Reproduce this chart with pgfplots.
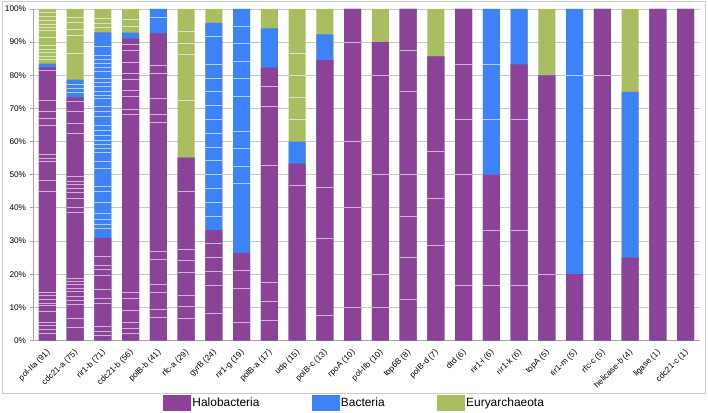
\documentclass[border=0pt]{standalone}
\usepackage{pgfplots}
\usepackage{pgfplotstable}
\pgfplotsset{compat=1.18}
\usepackage{fontspec}
\setmainfont{Liberation Sans}
\definecolor{halo}{RGB}{140,66,150}
\definecolor{bact}{RGB}{62,130,247}
\definecolor{eury}{RGB}{168,190,96}
\definecolor{gridc}{RGB}{200,200,200}
\newcommand{\rl}[1]{\rotatebox{45}{#1}}

% cumulative percentages: H = Halobacteria, HB = Halobacteria+Bacteria, T = total
\pgfplotstableread{
x H HB T
0 82.42 83.52 100
1 73.33 78.67 100
2 30.99 92.96 100
3 91.07 92.86 100
4 92.68 100 100
5 55.17 55.17 100
6 33.33 95.83 100
7 26.32 100 100
8 82.35 94.12 100
9 53.33 60.00 100
10 84.62 92.31 100
11 100 100 100
12 90 90 100
13 100 100 100
14 85.71 85.71 100
15 100 100 100
16 50 100 100
17 83.33 100 100
18 80 80 100
19 20 100 100
20 100 100 100
21 25 75 100
22 100 100 100
23 100 100 100
}\bars

% separators between sequence groups inside the bars
\pgfplotstableread{
x y
0 98.9
0 97.7
0 96.4
0 95.4
0 94.4
0 93.4
0 91.3
0 89.1
0 87.8
0 86.8
0 85.6
0 84.8
0 81.5
0 72.5
0 69.1
0 67.1
0 65.0
0 56.0
0 55.0
0 54.0
0 48.4
0 45.1
0 14.4
0 13.5
0 12.4
0 11.3
0 10.7
0 8.8
0 5.4
0 4.4
0 3.4
0 2.0
1 97.5
1 96.0
1 93.7
1 91.9
1 86.6
1 77.3
1 76.0
1 74.7
1 72.0
1 69.2
1 65.5
1 62.6
1 49.4
1 48.1
1 47.0
1 45.8
1 44.8
1 42.8
1 40.1
1 38.7
1 18.8
1 17.8
1 16.8
1 15.8
1 14.8
1 13.3
1 12.1
1 10.8
1 6.8
1 4.0
2 97.2
2 95.7
2 94.4
2 88.6
2 86.1
2 84.8
2 83.6
2 82.3
2 81.1
2 78.9
2 77.7
2 76.5
2 75.2
2 74.0
2 73.0
2 70.5
2 69.0
2 67.5
2 65.0
2 63.4
2 61.9
2 60.4
2 59.1
2 57.9
2 56.6
2 54.1
2 51.9
2 46.4
2 45.0
2 41.5
2 38.2
2 36.6
2 35.1
2 33.8
2 25.3
2 22.5
2 21.3
2 19.6
2 15.3
2 12.7
2 11.1
2 4.1
2 2.8
2 1.5
3 96.7
3 94.7
3 89.3
3 87.6
3 84.0
3 80.6
3 78.6
3 75.4
3 73.6
3 69.8
3 68.1
3 14.4
3 12.6
3 9.1
3 5.5
3 3.7
3 2.0
4 97.5
4 83.0
4 80.6
4 73.0
4 68.2
4 65.9
4 26.8
4 24.3
4 16.8
4 14.6
4 9.4
4 7.0
5 93.2
5 89.6
5 86.3
5 72.3
5 44.9
5 27.4
5 24.2
5 20.6
5 13.6
5 10.2
5 6.8
6 91.7
6 83.3
6 79.2
6 75.0
6 70.8
6 66.7
6 62.5
6 58.3
6 54.2
6 50.0
6 45.8
6 41.7
6 37.5
6 29.2
6 25.0
6 20.8
6 16.7
6 8.3
7 94.7
7 89.5
7 84.2
7 78.9
7 73.7
7 63.2
7 57.9
7 52.6
7 47.4
7 21.1
7 15.8
7 5.3
8 76.5
8 70.6
8 52.9
8 17.6
8 11.8
8 5.9
9 86.7
9 80.0
9 73.3
9 66.7
9 46.7
10 46.2
10 30.8
10 7.7
11 90
11 60
11 40
11 10
12 80
12 50
12 20
12 10
13 87.5
13 75
13 50
13 37.5
13 25
13 12.5
14 57.1
14 42.9
14 28.6
15 83.3
15 66.7
15 50
15 16.7
16 83.3
16 66.7
16 33.3
16 16.7
17 66.7
17 33.3
17 16.7
18 20
19 80
20 80
}\seps

\begin{document}
\begin{tikzpicture}
\path[use as bounding box] (-33.6bp,-72.5bp) rectangle (674.4bp,340.5bp);
\draw[gray!40, line width=0.8bp] (-31.6bp,-52.5bp) rectangle (671.4bp,339.5bp);
\begin{axis}[
  scale only axis, width=666bp, height=331.5bp,
  xmin=-0.5, xmax=23.5, ymin=0, ymax=100,
  axis lines=left, axis line style={-, draw=gray!70, line width=0.8bp},
  ytick={0,10,...,100},
  yticklabel={\pgfmathprintnumber{\tick}\%},
  /pgf/number format/assume math mode=true,
  ymajorgrids, grid style={gridc, line width=0.8bp},
  tick align=outside, major tick length=4bp,
  ytick style={draw=gray!70, line width=0.8bp},
  xtick={0,...,23},
  xticklabels={\rl{pol-IIa (91)},\rl{cdc21-a (75)},\rl{rir1-b (71)},\rl{cdc21-b (56)},\rl{polB-b (41)},\rl{rfc-a (29)},\rl{gyrB (24)},\rl{rir1-g (19)},\rl{polB-a (17)},\rl{udp (15)},\rl{polB-c (13)},\rl{rpoA (10)},\rl{pol-IIb (10)},\rl{top6B (8)},\rl{polB-d (7)},\rl{dtd (6)},\rl{rir1-i (6)},\rl{rir1-k (6)},\rl{topA (5)},\rl{rir1-m (5)},\rl{rfc-c (5)},\rl{helicase-b (4)},\rl{ligase (1)},\rl{cdc21-c (1)}},
  xtick style={draw=none},
  xticklabel style={anchor=north east, font=\fontsize{8.3}{9}\selectfont, inner sep=0pt, xshift=4bp, yshift=-4bp},
  yticklabel style={font=\fontsize{8.3}{9}\selectfont},
  legend style={at={(0.4818,-0.188)}, anchor=center, draw=none, fill=none,
    font=\fontsize{12}{14}\selectfont,
    /tikz/every even column/.append style={column sep=50bp}},
  legend columns=3,
]
\addplot[ybar, bar width=17bp, bar shift=0pt, fill=eury, draw=none, forget plot] table[x=x,y=T]{\bars};
\addplot[ybar, bar width=17bp, bar shift=0pt, fill=bact, draw=none, forget plot] table[x=x,y=HB]{\bars};
\addplot[ybar, bar width=17bp, bar shift=0pt, fill=halo, draw=none, forget plot] table[x=x,y=H]{\bars};
\addplot[only marks, mark=-, mark size=8.5bp, mark options={draw=white, draw opacity=0.6, line width=0.9bp}, forget plot] table[x=x,y=y]{\seps};
\addlegendimage{legend image code/.code={\fill[halo] (0bp,-7.5bp) rectangle (27bp,7.5bp);}}
\addlegendentry{Halobacteria}
\addlegendimage{legend image code/.code={\fill[bact] (0bp,-7.5bp) rectangle (27bp,7.5bp);}}
\addlegendentry{Bacteria}
\addlegendimage{legend image code/.code={\fill[eury] (0bp,-7.5bp) rectangle (27bp,7.5bp);}}
\addlegendentry{Euryarchaeota}
\end{axis}
\end{tikzpicture}
\end{document}
